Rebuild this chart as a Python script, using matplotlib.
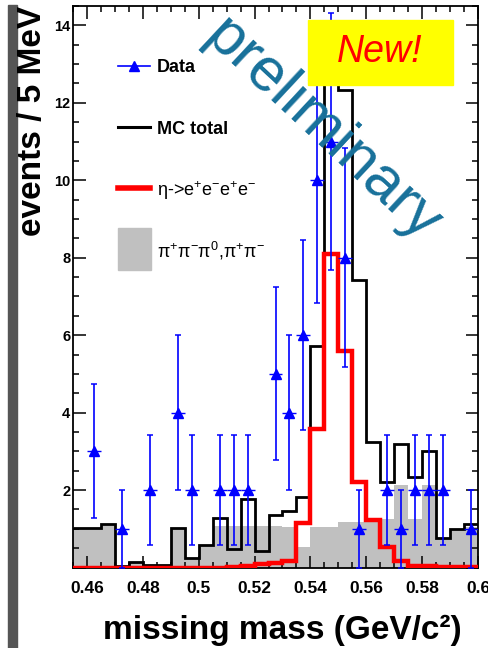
import numpy as np
import matplotlib
matplotlib.use('Agg')
import matplotlib.pyplot as plt
from matplotlib.lines import Line2D
from matplotlib.patches import Rectangle

plt.rcParams['font.family'] = ['Liberation Sans', 'DejaVu Sans']
plt.rcParams['mathtext.fontset'] = 'custom'
plt.rcParams['mathtext.rm'] = 'Liberation Sans'
plt.rcParams['mathtext.it'] = 'Liberation Sans:italic'
plt.rcParams['mathtext.bf'] = 'Liberation Sans:bold'

# 5 MeV bins of missing mass (GeV/c^2)
edges = np.linspace(0.455, 0.600, 30)

data_counts = [0, 3, 0, 1, 0, 2, 0, 4, 2, 0, 2, 2, 2, 0, 5, 4, 6, 10, 11, 8,
               1, 0, 2, 1, 2, 2, 2, 0, 1]
mc_total = [1.03, 1.03, 1.12, 0.04, 0.13, 0.07, 0.07, 1.03, 0.24, 0.58, 1.29,
            0.47, 1.77, 0.43, 1.35, 1.45, 1.82, 5.73, 13.6, 12.33, 7.42, 3.25,
            2.20, 3.19, 2.34, 3.02, 0.75, 0.99, 1.12]
eta_4e = [0.0, 0.0, 0.0, 0.0, 0.0, 0.0, 0.0, 0.0, 0.0, 0.0, 0.0, 0.02, 0.05,
          0.08, 0.12, 0.17, 1.16, 3.58, 8.1, 5.6, 2.2, 1.22, 0.54, 0.18, 0.05,
          0.04, 0.02, 0.02, 0.02]
pipi_bkg = [1.03, 1.03, 1.10, 0.04, 0.12, 0.07, 0.07, 1.03, 0.24, 0.58, 1.08,
            1.08, 1.08, 1.08, 1.08, 1.05, 0.52, 1.05, 1.05, 1.18, 1.18, 1.18,
            1.26, 2.12, 1.26, 2.12, 0.75, 0.99, 1.05]

x_ticks = [0.46, 0.48, 0.50, 0.52, 0.54, 0.56, 0.58, 0.60]
x_ticklabels = ['0.46', '0.48', '0.5', '0.52', '0.54', '0.56', '0.58', '0.6']
y_ticks = [0, 2, 4, 6, 8, 10, 12, 14]
y_ticklabels = ['', '2', '4', '6', '8', '10', '12', '14']

W, H = 489, 648
fig = plt.figure(figsize=(W / 100, H / 100), dpi=100)
ax = fig.add_axes([73 / W, (H - 567.5) / H, 405 / W, 561.5 / H])

centers = 0.5 * (edges[:-1] + edges[1:])
counts = np.array(data_counts, dtype=float)

ax.stairs(pipi_bkg, edges, fill=True, color='#c0c0c0', zorder=1)
ax.stairs(mc_total, edges, baseline=None, color='black', lw=2.0, zorder=2)
ax.stairs(eta_4e, edges, baseline=None, color='red', lw=3.2, zorder=3)

m = counts > 0
ax.errorbar(centers[m], counts[m], yerr=np.sqrt(counts[m]), fmt='^',
            color='blue', ms=7, elinewidth=1.2, capsize=2.2, capthick=1.1,
            zorder=5)
ax.hlines(counts[m], centers[m] - 0.0025, centers[m] + 0.0025,
          color='blue', lw=1.0, zorder=4)

ax.set_xlim(0.455, 0.600)
ax.set_ylim(0, 14.5)
ax.set_xticks(x_ticks)
ax.set_xticklabels(x_ticklabels, fontsize=12.5, fontweight='bold')
ax.set_yticks(y_ticks)
ax.set_yticklabels(y_ticklabels, fontsize=10.5, fontweight='bold')
ax.set_xticks(np.arange(0.455, 0.6001, 0.005), minor=True)
ax.set_yticks(np.arange(0, 14.51, 0.5), minor=True)
ax.tick_params(which='both', direction='in', top=True, right=True, width=1.1)
ax.tick_params(which='major', length=9)
ax.tick_params(which='minor', length=4.5)
ax.tick_params(axis='x', pad=10)
ax.tick_params(axis='y', pad=2)
for s in ax.spines.values():
    s.set_linewidth(1.3)


def fx(px):
    return px / W


def fy(py):
    return 1 - py / H


# legend, laid out by hand
fig.add_artist(Line2D([fx(118), fx(150)], [fy(66), fy(66)], color='blue', lw=1.2))
fig.add_artist(Line2D([fx(134)], [fy(66)], color='blue', marker='^', ms=7))
fig.add_artist(Line2D([fx(118), fx(150)], [fy(127), fy(127)], color='black', lw=2.2))
fig.add_artist(Line2D([fx(118), fx(150)], [fy(188), fy(188)], color='red', lw=4))
fig.add_artist(Rectangle((fx(118), fy(270)), 33 / W, 42 / H,
                         transform=fig.transFigure, color='#c0c0c0'))
leg_y = [66, 127, 188, 249]
leg_labels = ['Data', 'MC total',
              r'η->e$^{+}$e$^{-}$e$^{+}$e$^{-}$',
              r'π$^{+}$π$^{-}$π$^{0}$,π$^{+}$π$^{-}$']
leg_weights = ['bold', 'bold', 'normal', 'normal']
for yy, lab, wt in zip(leg_y, leg_labels, leg_weights):
    fig.text(fx(157), fy(yy), lab, ha='left', va='center_baseline', fontsize=13,
             fontweight=wt)

# axis titles
fig.text(33 / W, 1 - 6 / H, 'events / 5 MeV', rotation=90, ha='center', va='top',
         fontsize=24, fontweight='bold')
fig.text(282 / W, 1 - 630 / H, 'missing mass (GeV/c²)', ha='center', va='center',
         fontsize=24, fontweight='bold')

# dark bar along the left side
fig.add_artist(Rectangle((8 / W, 0), 9 / W, 643 / H, transform=fig.transFigure,
                         color='#555555', zorder=0))

# watermark and badge
fig.text(fx(322), fy(130), 'preliminary', rotation=-43, rotation_mode='anchor',
         ha='center', va='center', fontsize=44, color='#17709a', zorder=10)
fig.add_artist(Rectangle((fx(308), fy(85)), 145 / W, 65 / H,
                         transform=fig.transFigure, color='#ffff00', zorder=11))
fig.text(fx(380), fy(52), 'New!', ha='center', va='center', fontsize=27,
         style='italic', color='red', zorder=12)

fig.savefig('out.png', dpi=100)
